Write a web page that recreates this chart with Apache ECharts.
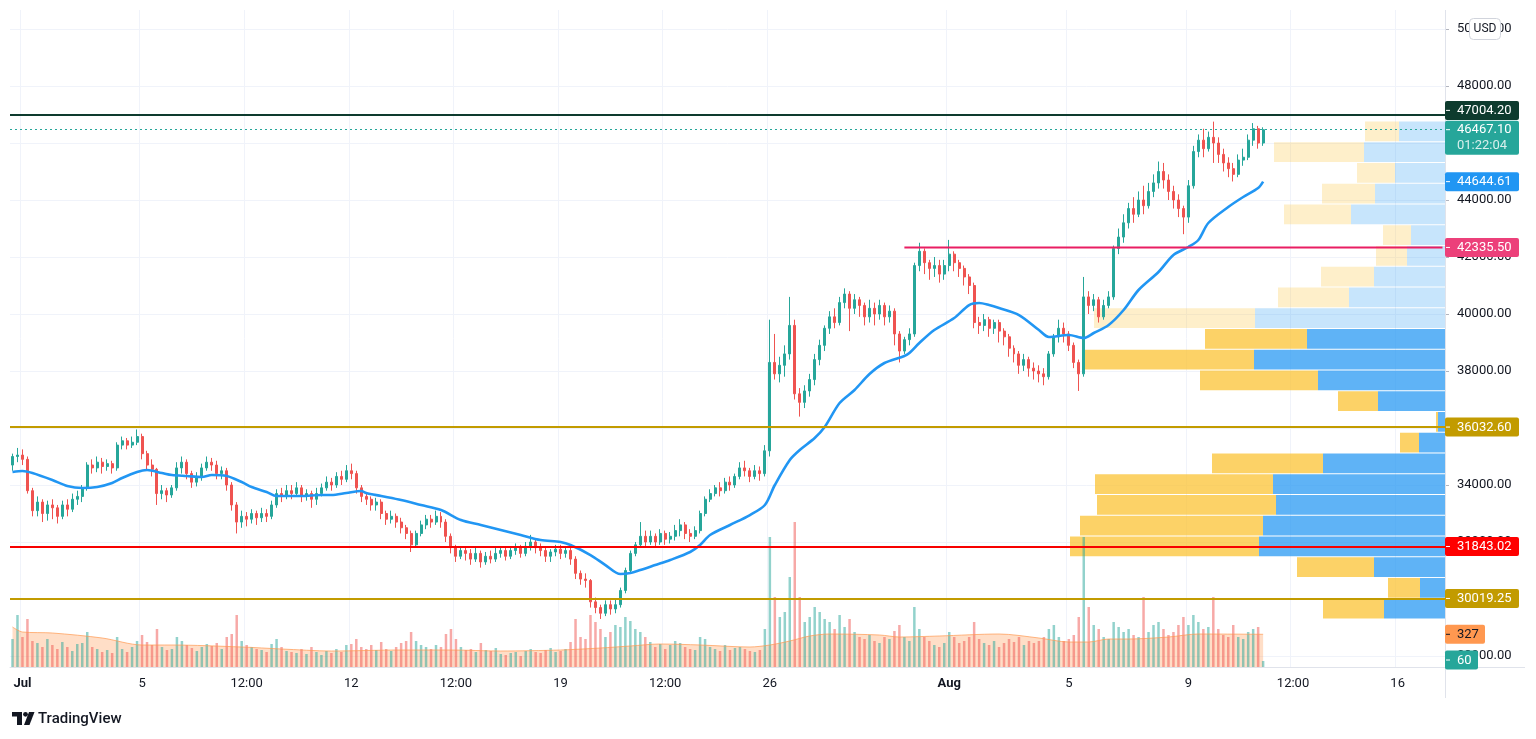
<!DOCTYPE html>
<html><head><meta charset="utf-8">
<script src="https://cdn.jsdelivr.net/npm/echarts/dist/echarts.min.js"></script>
<style>html,body{margin:0;padding:0;background:#fff;}#c{width:1536px;height:739px;}</style>
</head><body><div id="c"></div><script>
// ---- DATA (4h candles from Jun 30 16:00 to Aug 11 12:00): [open, close, low, high]
const candles = [
[34700,35000,34500,35100],[35000,35050,34800,35300],
[35050,34900,34700,35250],[34900,33800,33700,35000],[33800,33100,32900,33900],[33100,33400,32900,33600],[33400,33000,32700,33500],[33000,33300,32750,33450],
[33300,33200,32800,33500],[33200,32900,32650,33300],[32900,33300,32800,33450],[33300,33150,32900,33500],[33150,33500,33050,33700],[33500,33600,33300,33800],
[33600,33900,33400,34000],[33900,34700,33800,34800],[34700,34600,34400,34900],[34600,34800,34450,35000],[34800,34650,34400,34950],[34650,34750,34500,34900],
[34750,34600,34400,34850],[34600,35400,34500,35500],[35400,35550,35250,35700],[35550,35400,35250,35650],[35400,35500,35300,35700],[35500,35700,35400,35950],
[35700,35100,34900,35800],[35100,34700,34500,35200],[34700,34550,34300,34900],[34550,33700,33300,34600],[33700,33800,33500,34000],[33800,33650,33400,33900],
[33650,33900,33550,34000],[33900,34600,33800,34800],[34600,34800,34400,35000],[34800,34400,34200,34900],[34400,34100,33900,34500],[34100,34300,33950,34450],
[34300,34600,34150,34750],[34600,34800,34500,35000],[34800,34700,34500,34950],[34700,34400,34200,34850],[34400,34500,34200,34650],[34500,34000,33800,34600],
[34000,33300,33100,34100],[33300,32700,32300,33400],[32700,32900,32500,33100],[32900,32800,32550,33050],[32800,33000,32650,33150],[33000,32850,32600,33100],
[32850,33000,32700,33200],[33000,32900,32700,33150],[32900,33300,32800,33450],[33300,33700,33200,33850],[33700,33600,33400,33900],[33600,33800,33500,34000],
[33800,33700,33500,34000],[33700,33900,33600,34100],[33900,33600,33400,34000],[33600,33700,33450,33850],[33700,33500,33200,33800],[33500,33700,33300,33900],
[33700,33900,33600,34050],[33900,34100,33800,34300],[34100,34000,33800,34250],[34000,34300,33900,34450],[34300,34200,34000,34500],[34200,34500,34100,34700],
[34500,34400,34200,34750],[34400,33900,33700,34500],[33900,33600,33400,34000],[33600,33500,33300,33750],[33500,33300,33100,33600],[33300,33400,33100,33550],
[33400,33000,32800,33500],[33000,32800,32600,33100],[32800,32900,32650,33100],[32900,32700,32500,33000],[32700,32500,32300,32850],[32500,32300,32100,32600],
[32300,31900,31650,32400],[31900,32300,31800,32400],[32300,32600,32200,32750],[32600,32800,32450,32950],[32800,32700,32500,32950],[32700,32900,32600,33100],
[32900,32700,32500,33050],[32700,32200,32000,32800],[32200,31800,31600,32300],[31800,31500,31300,31900],[31500,31700,31400,31850],[31700,31600,31350,31850],
[31600,31400,31200,31750],[31400,31600,31300,31800],[31600,31300,31100,31700],[31300,31500,31200,31650],[31500,31400,31250,31700],[31400,31600,31300,31800],
[31600,31700,31450,31850],[31700,31500,31350,31800],[31500,31700,31400,31850],[31700,31800,31550,31950],[31800,31600,31450,31900],[31600,31850,31500,32000],
[31850,32000,31700,32250],[32000,31800,31600,32100],[31800,31700,31500,31950],[31700,31500,31300,31800],[31500,31650,31300,31750],[31650,31750,31500,31900],
[31750,31600,31400,31900],[31600,31700,31450,31850],[31700,31400,31200,31800],[31400,30900,30700,31500],[30900,30700,30500,31000],[30700,30650,30400,30900],
[30650,29900,29700,30700],[29900,29700,29500,30050],[29700,29500,29300,29800],[29500,29800,29400,29950],[29800,29650,29450,29950],[29650,29800,29500,30000],
[29800,30300,29700,30400],[30300,31000,30200,31100],[31000,31600,30900,31700],[31600,31900,31500,32000],[31900,32200,31800,32700],[32200,32000,31800,32400],
[32000,32200,31900,32400],[32200,32000,31800,32300],[32000,32300,31900,32450],[32300,32100,31900,32400],[32100,32200,31950,32350],[32200,32400,32050,32600],
[32400,32600,32200,32800],[32600,32300,32100,32700],[32300,32200,32000,32450],[32200,32400,32100,32550],[32400,33000,32300,33100],[33000,33500,32900,33600],
[33500,33700,33400,33850],[33700,33900,33600,34000],[33900,33800,33600,34100],[33800,34100,33700,34250],[34100,34000,33800,34300],[34000,34300,33900,34400],
[34300,34600,34200,34800],[34600,34500,34300,34850],[34500,34300,34100,34600],[34300,34500,34200,34700],[34500,34400,34150,34650],[34400,35200,34300,35400],
[35200,38300,35000,39800],[38300,37900,37700,39300],[37900,38200,37600,38500],[38200,38600,37800,38900],[38600,39600,38400,40600],[39600,37200,37000,39800],
[37200,36900,36400,37400],[36900,37300,36700,37500],[37300,37700,37100,37900],[37700,38400,37500,38600],[38400,38900,38200,39100],[38900,39500,38700,39600],
[39500,39900,39300,40100],[39900,39700,39500,40200],[39700,40400,39600,40600],[40400,40700,40200,40900],[40700,40200,39400,40800],[40200,40500,40000,40700],
[40500,40300,39900,40600],[40300,39900,39600,40400],[39900,40200,39700,40500],[40200,40000,39600,40400],[40000,40300,39800,40500],[40300,39900,39600,40400],
[39900,40100,39700,40300],[40100,39300,38900,40200],[39300,38700,38300,39400],[38700,39100,38600,39200],[39100,39300,38900,39500],[39300,41700,39200,41800],
[41700,42200,41500,42500],[42200,41800,41400,42300],[41800,41600,41200,41900],[41600,41700,41300,42000],[41700,41400,41100,41900],[41400,41700,41200,41900],
[41700,42100,41500,42600],[42100,41800,41500,42200],[41800,41600,41300,41900],[41600,41300,41000,41700],[41300,41000,40700,41400],[41000,39700,39500,41100],
[39700,39600,39300,39900],[39600,39800,39400,40000],[39800,39500,39200,39900],[39500,39700,39300,39800],[39700,39400,39000,39800],[39400,39200,38900,39500],
[39200,38800,38500,39300],[38800,38600,38300,38900],[38600,38200,37900,38700],[38200,38400,38000,38600],[38400,38100,37800,38500],[38100,38000,37700,38300],
[38000,37900,37600,38200],[37900,37800,37500,38100],[37800,38600,37700,38700],[38600,39200,38500,39300],[39200,39500,39000,39800],[39500,39300,39000,39700],
[39300,38900,38700,39400],[38900,38300,38100,39000],[38300,37900,37300,38400],[37900,40600,37800,41300],[40600,40300,40000,40800],[40300,40500,40100,40700],
[40500,39900,39700,40600],[39900,40300,39800,40500],[40300,40600,40200,40800],[40600,42300,40500,42400],[42300,42700,42100,43000],[42700,43200,42500,43500],
[43200,43700,43000,43900],[43700,43500,43200,44100],[43500,44000,43400,44300],[44000,43800,43500,44500],[43800,44300,43700,44600],[44300,44600,44100,44900],
[44600,45000,44400,45350],[45000,44700,44400,45300],[44700,44300,44000,44900],[44300,44000,43700,44500],[44000,43700,43400,44200],[43700,43400,42800,43800],
[43400,44500,43200,44700],[44500,45700,44400,45900],[45700,46100,45500,46300],[46100,45800,45500,46500],[45800,46200,45700,46400],[46200,46000,45300,46750],
[46000,45600,45300,46200],[45600,45300,45000,45800],[45300,45100,44800,45500],[45100,44900,44650,45300],[44900,45400,44800,45600],[45400,45500,45200,45800],
[45500,46100,45400,46300],[46100,46500,45900,46700],[46500,46000,45800,46600],[46000,46467.1,45900,46550]
];
const volumes = [
280,520,
300,480,260,240,200,280, 220,180,250,200,160,230, 240,350,200,180,150,170, 140,300,180,150,200,260,
320,250,220,380,200,170, 180,300,260,220,190,160, 200,230,210,240,180,300, 330,520,260,220,200,180,
170,150,230,280,200,160, 150,140,180,130,200,150, 120,160,140,180,150,220, 230,280,200,180,220,170,
250,180,160,200,240,260, 350,260,220,200,180,220, 200,330,380,280,200,170, 180,150,240,170,160,190,
130,120,140,150,110,160, 180,150,140,170,190,150, 160,180,250,480,300,280, 520,450,380,300,350,420,
400,500,460,380,350,300, 250,200,230,180,220,260, 240,200,180,170,300,280, 200,180,160,220,170,190,
200,180,160,150,170,380, 1300,700,500,550,900,1450, 700,450,500,600,550,480, 450,380,520,400,480,350,
300,280,320,260,240,300, 280,360,420,300,260,600, 380,300,260,220,200,240, 350,300,240,260,300,450,
280,240,220,260,200,240, 280,250,300,220,260,240, 260,300,380,420,300,260, 280,320,500,1300,600,420,
380,300,280,450,400,350, 380,320,300,700,350,420, 450,380,320,350,420,500, 420,520,450,380,400,700,
380,320,300,420,300,280, 350,380,400,60
];
// moving average of price, read at sampled candles: [candleIndex, value]
const maPoints = [[0,34456],[2,34491],[4,34420],[8,34175],[11,33965],[14,33894],[17,33929],[20,34070],[22,34245],[25,34456],[27,34526],[30,34420],[32,34350],[35,34315],[38,34280],[40,34350],[43,34315],[46,34105],[48,33929],[51,33754],[53,33613],[58,33613],[62,33648],[64,33648],[67,33718],[70,33789],[71,33718],[74,33613],[78,33473],[82,33298],[86,33122],[90,32771],[94,32596],[98,32420],[102,32245],[106,32069],[110,31999],[112,31894],[116,31543],[119,31192],[122,30876],[124,30911],[126,31017],[129,31192],[132,31368],[136,31648],[138,31894],[140,32245],[144,32596],[148,32947],[151,33298],[153,34000],[156,34877],[158,35227],[161,35648],[163,36034],[166,36876],[169,37333],[172,37894],[175,38280],[179,38526],[180,38631],[182,38982],[185,39438],[189,39859],[192,40315],[194,40385],[196,40315],[198,40210],[202,39964],[206,39438],[208,39193],[212,39263],[215,39157],[217,39333],[220,39614],[223,40140],[226,40842],[230,41474],[233,42071],[236,42351],[238,42596],[240,43193],[244,43754],[247,44105],[250,44420],[251,44644.61]];
// moving average of volume, sampled: [candleIndex, value]
const volMaPoints = [[0,400],[2,350],[8,340],[18,290],[26,220],[32,220],[46,200],[54,180],[64,160],[78,170],[88,170],[98,160],[110,170],[118,190],[124,210],[130,230],[138,220],[148,200],[152,220],[156,260],[160,310],[164,330],[174,320],[178,300],[186,310],[198,330],[206,290],[212,250],[216,250],[220,280],[224,280],[232,300],[238,330],[251,327]];
// volume profile rows, bottom to top
const profileLow = 29300, profileStep = 728;
const profileUp   = [61,32,77,189,183,179,178,111,19,2,40,118,169,102,161,71,53,31,28,67,53,38,90,34];
const profileDown = [61,25,71,186,182,169,172,122,26,7,67,127,191,138,190,96,71,38,34,94,70,50,81,46];
const profileInVA = [1,1,1,1,1,1,1,1,1,1,1,1,1,1,0,0,0,0,0,0,0,0,0,0];
// price levels
const levelResistance = 47004.20, lastPrice = 46467.10, countdown = '01:22:04';
const levelPink = 42335.50, pinkStartIdx = 179;
const levelGold1 = 36032.60, levelRed = 31843.02, levelGold2 = 30019.25;
const lastVolMa = 327, lastVol = 60;
// time axis
const nCats = 288;
const tickIdx  = [2,26,47,68,89,110,131,152,188,212,236,257,278];
const tickText = ['Jul','5','12:00','12','12:00','19','12:00','26','Aug','5','9','12:00','16'];
const priceMin = 28000, priceMax = 50000, priceStep = 2000;

// ---- CHART
const FONT = 'Roboto, "Noto Sans", sans-serif';
const cats = Array.from({length:nCats}, (_, i) => 'c' + i);
const tickMap = new Map(tickIdx.map((v, k) => [v, tickText[k]]));
const UP = '#26a69a', DN = '#ef5350';
const chart = echarts.init(document.getElementById('c'));
const volData = volumes.map((v, i) => ({value: v, itemStyle: {color: candles[i][1] >= candles[i][0] ? 'rgba(38,166,154,0.5)' : 'rgba(239,83,80,0.5)'}}));
const profData = profileUp.map((u, k) => [k, u, profileDown[k], profileInVA[k], profileLow + k * profileStep]);

const option = {
  animation: false,
  backgroundColor: '#ffffff',
  grid: [
    {left: 10, right: 91, top: 29, bottom: 83},
    {left: 10, right: 91, top: 10, bottom: 72}
  ],
  xAxis: [
    {type: 'category', gridIndex: 0, data: cats, show: false},
    {type: 'value', gridIndex: 0, inverse: true, min: 0, max: 1435, show: false},
    {type: 'category', gridIndex: 1, data: cats,
      axisLine: {lineStyle: {color: '#e0e3eb'}}, axisTick: {show: false},
      axisLabel: {interval: (i) => tickMap.has(i), formatter: (v, i) => {
        const t = tickMap.get(i) || ''; return (t === 'Jul' || t === 'Aug') ? '{b|' + t + '}' : t; },
        color: '#131722', fontSize: 13, fontFamily: FONT, margin: 10,
        rich: {b: {fontWeight: 'bold', fontSize: 13, fontFamily: FONT, color: '#131722'}}},
      splitLine: {show: true, interval: (i) => tickMap.has(i), lineStyle: {color: '#f0f3fa', width: 1}}}
  ],
  yAxis: [
    {type: 'value', gridIndex: 0, position: 'right', min: priceMin, max: priceMax, interval: priceStep,
      axisLine: {show: false}, axisTick: {show: true, length: 4, lineStyle: {color: '#b2b5be'}},
      axisLabel: {formatter: (v) => v.toFixed(2), color: '#131722', fontSize: 13, fontFamily: FONT, margin: 12},
      splitLine: {lineStyle: {color: '#f0f3fa', width: 1}}},
    {type: 'value', gridIndex: 1, min: 0, max: 6570, show: false, splitLine: {show: false}}
  ],
  series: [
    {type: 'custom', name: 'profile', xAxisIndex: 1, yAxisIndex: 0, z: 1, data: profData,
      encode: {x: 2, y: 4},
      renderItem: function (params, api) {
        const k = api.value(0), up = api.value(1), dn = api.value(2), va = api.value(3);
        const lo = profileLow + k * profileStep, hi = lo + profileStep;
        const a = api.coord([0, hi]), b = api.coord([dn, lo]), c = api.coord([dn + up, lo]);
        const top = a[1] + 0.5, h = b[1] - a[1] - 1;
        return {type: 'group', children: [
          {type: 'rect', shape: {x: b[0], y: top, width: a[0] - b[0], height: h},
            style: {fill: va ? 'rgba(33,150,243,0.72)' : 'rgba(33,150,243,0.25)'}},
          {type: 'rect', shape: {x: c[0], y: top, width: b[0] - c[0], height: h},
            style: {fill: va ? 'rgba(251,192,45,0.72)' : 'rgba(251,192,45,0.25)'}}
        ]};
      }},
    {type: 'candlestick', xAxisIndex: 0, yAxisIndex: 0, z: 3, data: candles, barWidth: '50%',
      itemStyle: {color: UP, color0: DN, borderColor: UP, borderColor0: DN, borderWidth: 1},
      markLine: {symbol: 'none', silent: true, label: {show: false}, animation: false,
        data: [
          {yAxis: levelResistance, lineStyle: {color: '#0e3b2e', width: 2, type: 'solid'}},
          {yAxis: lastPrice, lineStyle: {color: '#26a69a', width: 1, type: [2, 3]}},
          {yAxis: levelGold1, lineStyle: {color: '#c29b00', width: 2, type: 'solid'}},
          {yAxis: levelRed, lineStyle: {color: '#f70000', width: 2, type: 'solid'}},
          {yAxis: levelGold2, lineStyle: {color: '#c29b00', width: 2, type: 'solid'}}
        ]}},
    {type: 'line', xAxisIndex: 0, yAxisIndex: 0, z: 4, data: maPoints, smooth: 0.3, showSymbol: false,
      lineStyle: {color: '#2196f3', width: 2.6}, silent: true},
    {type: 'line', xAxisIndex: 0, yAxisIndex: 0, z: 5, showSymbol: false, silent: true,
      data: [[pinkStartIdx, levelPink], [nCats - 1, levelPink]], lineStyle: {color: '#e91e63', width: 2}},
    {type: 'bar', xAxisIndex: 2, yAxisIndex: 1, z: 2, data: volData, barWidth: '50%'},
    {type: 'line', xAxisIndex: 2, yAxisIndex: 1, z: 2, data: volMaPoints, smooth: 0.3, showSymbol: false, silent: true,
      lineStyle: {color: 'rgba(255,152,80,0.7)', width: 1}, areaStyle: {color: 'rgba(255,152,80,0.45)'}}
  ]
};
chart.setOption(option);

// ---- right-side badges positioned through the axes
const yP = (v) => chart.convertToPixel({yAxisIndex: 0}, v);
const yV = (v) => chart.convertToPixel({yAxisIndex: 1}, v);
const g = [];
function badge(cy, text, bg, fg, w, shift) {
  const h = 19, top = cy - h / 2 + (shift || 0);
  g.push({type: 'rect', z: 100, shape: {x: 1445, y: top, width: w, height: h, r: 2}, style: {fill: bg}});
  g.push({type: 'line', z: 101, shape: {x1: 1446, y1: top + h / 2, x2: 1450, y2: top + h / 2}, style: {stroke: fg, lineWidth: 1}});
  g.push({type: 'text', z: 101, style: {x: 1457, y: top + h / 2 + 0.5, text: text, fill: fg, font: '13px ' + FONT, textVerticalAlign: 'middle', verticalAlign: 'middle'}});
}
const fmt = (v) => v.toFixed(2);
badge(yP(levelResistance), fmt(levelResistance), '#0e3b2e', '#ffffff', 74, -4);
// last price + countdown
(function () {
  const y = yP(lastPrice), top = y - 9;
  g.push({type: 'rect', z: 100, shape: {x: 1445, y: top, width: 74, height: 34, r: 2}, style: {fill: '#26a69a'}});
  g.push({type: 'line', z: 101, shape: {x1: 1446, y1: y, x2: 1450, y2: y}, style: {stroke: '#fff', lineWidth: 1}});
  g.push({type: 'text', z: 101, style: {x: 1457, y: top + 9.5, text: fmt(lastPrice), fill: '#ffffff', font: '13px ' + FONT, verticalAlign: 'middle'}});
  g.push({type: 'text', z: 101, style: {x: 1457, y: top + 25, text: countdown, fill: '#d8f0ed', font: '13px ' + FONT, verticalAlign: 'middle'}});
})();
badge(yP(maPoints[maPoints.length - 1][1]), fmt(maPoints[maPoints.length - 1][1]), '#2196f3', '#ffffff', 74, 0);
badge(yP(levelPink), fmt(levelPink), '#ec407a', '#ffffff', 74, 0);
badge(yP(levelGold1), fmt(levelGold1), '#c29b00', '#ffffff', 74, 0);
badge(yP(levelRed), fmt(levelRed), '#ff0000', '#ffffff', 74, 0);
badge(yP(levelGold2), fmt(levelGold2), '#c29b00', '#ffffff', 74, 0);
badge(yV(lastVolMa), String(lastVolMa), '#ff9850', '#131722', 40, 0);
badge(yV(lastVol), String(lastVol), '#26a69a', '#ffffff', 33, -1);
// axis frame lines
g.push({type: 'line', z: 50, shape: {x1: 1445.5, y1: 10, x2: 1445.5, y2: 698}, style: {stroke: '#e0e3eb', lineWidth: 1}});
g.push({type: 'line', z: 50, shape: {x1: 10, y1: 667.5, x2: 1525, y2: 667.5}, style: {stroke: '#e0e3eb', lineWidth: 1}});
// USD badge
g.push({type: 'rect', z: 100, shape: {x: 1469.5, y: 18.5, width: 31, height: 21, r: 4}, style: {fill: '#ffffff', stroke: '#d1d4dc', lineWidth: 1}});
g.push({type: 'text', z: 101, style: {x: 1485, y: 29, text: 'USD', fill: '#131722', font: '12px ' + FONT, align: 'center', verticalAlign: 'middle'}});
// TradingView logo
g.push({type: 'polygon', z: 100, shape: {points: [[12, 712], [22, 712], [22, 725], [17, 725], [17, 716.5], [12, 716.5]]}, style: {fill: '#131722'}});
g.push({type: 'circle', z: 100, shape: {cx: 25.5, cy: 714.3, r: 2.4}, style: {fill: '#131722'}});
g.push({type: 'polygon', z: 100, shape: {points: [[29, 712], [34.5, 712], [29.5, 725], [24, 725]]}, style: {fill: '#131722'}});
g.push({type: 'text', z: 100, style: {x: 38, y: 719, text: 'TradingView', fill: '#131722', font: '500 15px ' + FONT, verticalAlign: 'middle'}});
chart.setOption({graphic: {elements: g}});
</script></body></html>
